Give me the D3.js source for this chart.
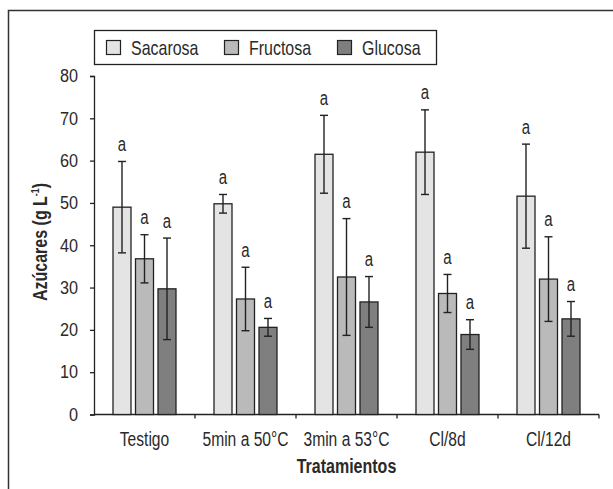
<!DOCTYPE html>
<html>
<head>
<meta charset="utf-8">
<script src="https://cdn.jsdelivr.net/npm/d3@7"></script>
<style>
  body { margin: 0; background: #fff; }
  svg text { font-family: "Liberation Sans", Arial, sans-serif; fill: #2a2a2a; }
</style>
</head>
<body>
<div id="chart"></div>
<script>
// data
const categories = ["Testigo", "5min a 50°C", "3min a 53°C", "Cl/8d", "Cl/12d"];
const series = ["Sacarosa", "Fructosa", "Glucosa"];
const sacarosa = [49.0, 49.8, 61.5, 62.0, 51.6];
const fructosa = [36.8, 27.3, 32.5, 28.6, 32.0];
const glucosa = [29.7, 20.6, 26.6, 18.9, 22.6];
const sacarosaErr = [10.8, 2.2, 9.2, 10.0, 12.3];
const fructosaErr = [5.7, 7.5, 13.8, 4.5, 10.0];
const glucosaErr = [12.0, 2.1, 6.0, 3.5, 4.1];
const letters = ["a", "a", "a"];
const yTicks = [0, 10, 20, 30, 40, 50, 60, 70, 80];

const values = [sacarosa, fructosa, glucosa];
const errors = [sacarosaErr, fructosaErr, glucosaErr];
const colors = ["#e4e4e4", "#bababa", "#7f7f7f"];

const width = 613, height = 489;
const svg = d3.select("#chart").append("svg")
  .attr("width", width)
  .attr("height", height);

// squeeze text horizontally to mimic the condensed typeface
function condense(sel, k) {
  sel.each(function() {
    const len = this.getComputedTextLength();
    d3.select(this).attr("textLength", len * k).attr("lengthAdjust", "spacingAndGlyphs");
  });
}

// outer frame (cropped at right and bottom)
svg.append("path")
  .attr("d", `M8.5,${height + 2}V10.5H${width + 2}`)
  .attr("fill", "none")
  .attr("stroke", "#333")
  .attr("stroke-width", 1.5);

const x = d3.scaleBand().domain(categories).range([94, 599]);
const xs = d3.scaleBand().domain(series).range([19, 82]).paddingInner(0.2);
const y = d3.scaleLinear().domain([0, 80]).range([414.5, 76]);

// y axis
const yAxis = svg.append("g")
  .attr("transform", "translate(94,0)")
  .call(d3.axisLeft(y).tickValues(yTicks).tickSize(4).tickPadding(12));
yAxis.selectAll("text").style("font-size", "18px").attr("fill", "#2a2a2a").call(condense, 0.9);
yAxis.selectAll("line, path").attr("stroke", "#222").attr("stroke-width", 1.3);

// x axis with ticks at category boundaries
const xAxisG = svg.append("g").attr("transform", `translate(0,${y(0)})`);
xAxisG.append("line")
  .attr("x1", 94).attr("x2", 599)
  .attr("stroke", "#222").attr("stroke-width", 1.3);
xAxisG.selectAll(".bt")
  .data(categories)
  .join("line")
  .attr("x1", d => x(d) + x.bandwidth()).attr("x2", d => x(d) + x.bandwidth())
  .attr("y1", 0).attr("y2", 4)
  .attr("stroke", "#222").attr("stroke-width", 1.3);
xAxisG.selectAll(".cl")
  .data(categories)
  .join("text")
  .attr("x", d => x(d) + x.bandwidth() / 2)
  .attr("y", 31.5)
  .attr("text-anchor", "middle")
  .style("font-size", "20px")
  .text(d => d)
  .call(condense, 0.78);

// bars
const groups = svg.selectAll(".grp")
  .data(categories)
  .join("g")
  .attr("transform", d => `translate(${x(d)},0)`);

series.forEach((s, si) => {
  groups.append("rect")
    .attr("x", xs(s))
    .attr("width", xs.bandwidth())
    .attr("y", (d, i) => y(values[si][i]))
    .attr("height", (d, i) => y(0) - y(values[si][i]))
    .attr("fill", colors[si])
    .attr("stroke", "#222")
    .attr("stroke-width", 1.3);

  const cx = xs(s) + xs.bandwidth() / 2;
  groups.append("line")
    .attr("x1", cx).attr("x2", cx)
    .attr("y1", (d, i) => y(values[si][i] + errors[si][i]))
    .attr("y2", (d, i) => y(values[si][i] - errors[si][i]))
    .attr("stroke", "#222").attr("stroke-width", 1.4);
  [1, -1].forEach(sign => {
    groups.append("line")
      .attr("x1", cx - 4).attr("x2", cx + 4)
      .attr("y1", (d, i) => y(values[si][i] + sign * errors[si][i]))
      .attr("y2", (d, i) => y(values[si][i] + sign * errors[si][i]))
      .attr("stroke", "#222").attr("stroke-width", 1.4);
  });
  groups.append("text")
    .attr("x", cx)
    .attr("y", (d, i) => y(values[si][i] + errors[si][i]) - 10.5)
    .attr("text-anchor", "middle")
    .style("font-size", "20px")
    .text(letters[si])
    .call(condense, 0.75);
});

// axis titles
svg.append("text")
  .attr("transform", "translate(47,242) rotate(-90) scale(0.8,1)")
  .attr("text-anchor", "middle")
  .style("font-size", "20px")
  .style("font-weight", "bold")
  .html('Azúcares (g L<tspan dy="-8" style="font-size:11px">-1</tspan><tspan dy="8">)</tspan>');

svg.append("text")
  .attr("x", x(categories[2]) + x.bandwidth() / 2)
  .attr("y", 473)
  .attr("text-anchor", "middle")
  .style("font-size", "20px")
  .style("font-weight", "bold")
  .text("Tratamientos")
  .call(condense, 0.8);

// legend
const legend = svg.append("g");
legend.append("rect")
  .attr("x", 94.5).attr("y", 30.5)
  .attr("width", 342).attr("height", 34)
  .attr("fill", "#fff")
  .attr("stroke", "#222").attr("stroke-width", 1.3);
const legendX = [106, 224, 337];
series.forEach((s, si) => {
  legend.append("rect")
    .attr("x", legendX[si] + 0.5).attr("y", 40.5)
    .attr("width", 14).attr("height", 14)
    .attr("fill", colors[si])
    .attr("stroke", "#222").attr("stroke-width", 1.2);
  legend.append("text")
    .attr("x", legendX[si] + 25)
    .attr("y", 54.5)
    .style("font-size", "21px")
    .text(s)
    .call(condense, 0.76);
});
</script>
</body>
</html>
